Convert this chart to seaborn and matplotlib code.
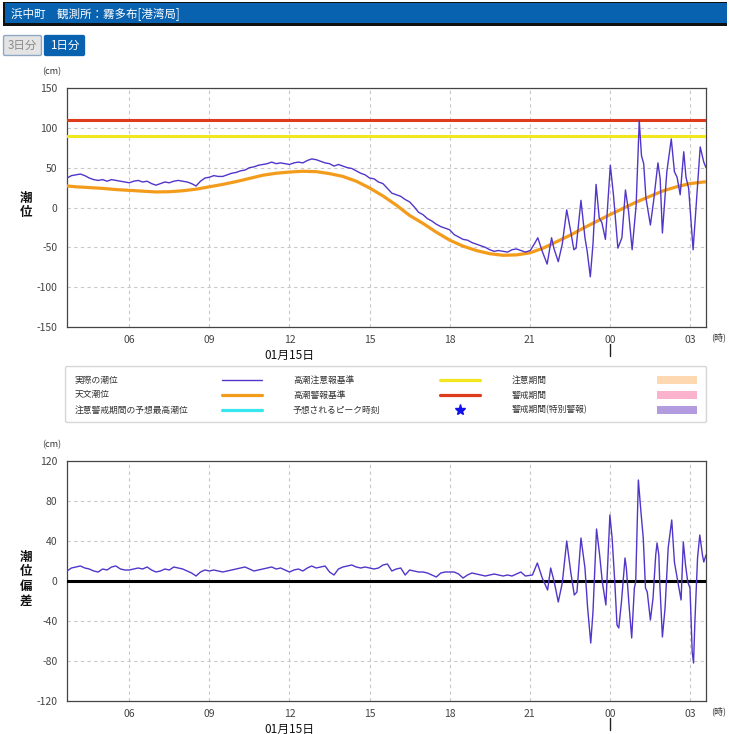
import numpy as np
import pandas as pd
import matplotlib
matplotlib.use("Agg")
import matplotlib.pyplot as plt
import matplotlib.dates as mdates
import matplotlib.transforms as mtrans
from matplotlib.patches import Rectangle, FancyBboxPatch
from matplotlib.lines import Line2D
import seaborn as sns

sns.set_theme(style="white")
plt.rcParams['font.family'] = ['Noto Sans CJK JP', 'DejaVu Sans']
plt.rcParams['axes.unicode_minus'] = False

# ---------------- DATA ----------------
title_text = "浜中町　観測所：霧多布[港湾局]"
date_label = "01月15日"
advisory_level_cm = 90     # 高潮注意報基準
warning_level_cm = 110     # 高潮警報基準

# 天文潮位, every 30 min from 01/15 03:00 to 01/16 04:00
astro_start = "2025-01-15 03:00"
astro_cm = [29, 27.5, 26, 25, 24, 22.5, 21.5, 20.5, 19.5, 19.8, 21, 23, 26, 29,
            32.5, 36.5, 40.5, 43, 44.5, 45.5, 45, 42.5, 39, 33, 24.5, 14.5, 3, -10,
            -20, -31, -41, -48.5, -54, -58, -60, -59.5, -57, -51, -43, -35, -26, -17.5,
            -9, -1, 7, 14, 21, 26, 30, 32, 33]

# calm period, every 10 min from 01/15 03:40
calm_start = "2025-01-15 03:40"
calm_obs_cm = [37, 40,
               41, 42, 40, 37, 35, 34,
               35, 33, 35, 34, 33, 32,
               31, 33, 34, 32, 33, 30,
               28, 30, 32, 31, 33, 34,
               33, 32, 30, 27, 33, 37,
               38, 40, 39, 39, 41, 43,
               44, 46, 47, 50, 51, 53,
               54, 55, 57, 55, 56, 55,
               54, 56, 57, 56, 59, 61,
               60, 58, 56, 55, 52, 54,
               52, 50, 49, 46, 43, 41,
               37, 36, 32, 30, 24, 18,
               16, 14, 10, 7, 1, -6,
               -9, -14, -17, -21, -24, -26,
               -28, -34, -37, -40, -41, -44,
               -46, -48, -50, -53, -55, -54,
               -55, -56, -53, -52, -54, -56]
calm_dev_cm = [10, 13,
               14, 15, 13, 12, 10, 9,
               12, 11, 14, 15, 12, 11,
               11, 12, 13, 12, 14, 11,
               9, 10, 12, 11, 14, 13,
               12, 10, 8, 5, 9, 11,
               10, 11, 10, 9, 10, 11,
               12, 13, 14, 12, 10, 11,
               12, 13, 14, 12, 13, 11,
               9, 11, 12, 10, 13, 15,
               13, 14, 15, 9, 6, 12,
               14, 15, 16, 14, 13, 14,
               13, 12, 13, 16, 17, 10,
               12, 13, 6, 11, 10, 9,
               9, 8, 6, 4, 8, 9,
               9, 9, 7, 3, 6, 8,
               7, 6, 5, 6, 7, 6,
               5, 6, 5, 7, 9, 5]

# tsunami period, observed tide level (top chart)
wave_obs_time = ["21:01", "21:10", "21:18", "21:28", "21:39", "21:49", "21:54", "22:04",
                 "22:13", "22:23", "22:32", "22:39", "22:44", "22:55", "23:04", "23:09",
                 "23:16", "23:22", "23:29", "23:36", "23:42", "23:50", "00:01", "00:08",
                 "00:18", "00:27", "00:35", "00:42", "00:50", "00:59", "01:06", "01:11",
                 "01:16", "01:21", "01:31", "01:38", "01:48", "01:53", "01:58", "02:08",
                 "02:18", "02:25", "02:31", "02:38", "02:46", "02:51", "02:57", "03:07",
                 "03:14", "03:23", "03:31", "03:36"]
wave_obs_cm = [-54, -46, -38, -55, -71, -38, -51, -68,
               -46, -3, -30, -53, -51, 9, -38, -55,
               -87, -46, 29, -13, -19, -40, 53, 16,
               -51, -38, 22, -5, -53, 3, 109, 65,
               55, 12, -22, 7, 56, 36, -32, 45,
               86, 45, 38, 16, 70, 38, 24, -53,
               3, 76, 57, 50]

# tsunami period, deviation (bottom chart)
wave_dev_time = ["21:06", "21:17", "21:28", "21:40", "21:47", "21:55", "22:04", "22:13",
                 "22:23", "22:32", "22:40", "22:46", "22:55", "23:04", "23:10", "23:17",
                 "23:22", "23:30", "23:37", "23:43", "23:51", "00:00", "00:05", "00:11",
                 "00:16", "00:20", "00:26", "00:34", "00:37", "00:43", "00:49", "00:55",
                 "00:58", "01:04", "01:10", "01:15", "01:20", "01:24", "01:31", "01:37",
                 "01:43", "01:46", "01:50", "01:52", "01:58", "02:04", "02:11", "02:19",
                 "02:25", "02:28", "02:32", "02:40", "02:45", "02:50", "02:55", "03:00",
                 "03:05", "03:08", "03:11", "03:17", "03:22", "03:28", "03:31", "03:36"]
wave_dev_cm = [6, 18, 3, -9, 13, -1, -21, -2,
               40, 9, -14, -11, 43, 13, -27, -62,
               -31, 52, 26, -1, -24, 66, 43, -1,
               -44, -47, -21, 23, 13, -24, -57, -7,
               -1, 101, 68, 43, -7, -11, -39, -17,
               26, 38, 26, -1, -56, -27, 33, 61,
               19, 11, 1, -19, 39, 16, -1, -7,
               -71, -82, -41, 23, 46, 26, 19, 26]

# ---------------- helpers ----------------
def to_times(labels):
    out, day, prev = [], 15, -1
    for s in labels:
        h, m = map(int, s.split(":"))
        t = h * 60 + m
        if t < prev:
            day = 16
        prev = t
        out.append(pd.Timestamp(2025, 1, day, h, m))
    return out

calm_times = list(pd.date_range(calm_start, periods=len(calm_obs_cm), freq="10min"))
obs_df = pd.DataFrame({"time": calm_times + to_times(wave_obs_time),
                       "cm": calm_obs_cm + wave_obs_cm})
dev_df = pd.DataFrame({"time": calm_times + to_times(wave_dev_time),
                       "cm": calm_dev_cm + wave_dev_cm})
astro_df = pd.DataFrame({"time": pd.date_range(astro_start, periods=len(astro_cm), freq="30min"),
                         "cm": astro_cm})

W, H = 729, 734
fig = plt.figure(figsize=(W / 100, H / 100), dpi=100)
fig.patch.set_facecolor("white")

def fx(px): return px / W
def fy(py): return 1 - py / H

PURPLE = "#5235c9"
ORANGE = "#f39c1c"
YELLOW = "#f2e61e"
RED = "#dd3b1c"
BLUE = "#0862b0"
GRID = "#c8c8c8"
AXC = "#444444"
TXT = "#444444"

# header
fig.patches.append(Rectangle((fx(3), fy(26)), fx(724), 24 / H, transform=fig.transFigure,
                             facecolor="#111111", edgecolor="none"))
fig.patches.append(Rectangle((fx(5), fy(23)), fx(722), 19.5 / H, transform=fig.transFigure,
                             facecolor=BLUE, edgecolor="none"))
fig.text(fx(11), fy(14), title_text, color="white", fontsize=8.3, va="center", ha="left")

# buttons
fig.patches.append(FancyBboxPatch((fx(5), fy(54)), 35 / W, 17 / H, boxstyle="round,pad=0.002",
                                  transform=fig.transFigure, facecolor="#e4e4e4",
                                  edgecolor="#8fa8c4", lw=1))
fig.text(fx(22.5), fy(45.5), "3日分", color="#8a8a8a", fontsize=8.3, ha="center", va="center")
fig.patches.append(FancyBboxPatch((fx(46), fy(54)), 37 / W, 17 / H, boxstyle="round,pad=0.002",
                                  transform=fig.transFigure, facecolor=BLUE,
                                  edgecolor=BLUE, lw=1))
fig.text(fx(64.5), fy(45.5), "1日分", color="white", fontsize=8.3, ha="center", va="center")

x0 = pd.Timestamp("2025-01-15 03:40")
x1 = pd.Timestamp("2025-01-16 03:36")
midnight = pd.Timestamp("2025-01-16 00:00")

def style_axis(ax, ylim, yticks, ylabel, top_px, bottom_px):
    ax.set_xlim(x0, x1)
    ax.set_ylim(*ylim)
    ax.set_yticks(yticks)
    ax.xaxis.set_major_locator(mdates.HourLocator(byhour=range(0, 24, 3)))
    ax.xaxis.set_minor_locator(mdates.HourLocator())
    ax.xaxis.set_major_formatter(mdates.DateFormatter("%H"))
    ax.tick_params(axis="both", which="both", direction="out", length=5, width=0.9,
                   color=AXC, labelsize=7.5, labelcolor=TXT, pad=2)
    ax.tick_params(axis="x", which="major", pad=0.5)
    ax.grid(True, which="major", axis="both", color=GRID, ls=(0, (3, 3)), lw=0.8)
    for s in ax.spines.values():
        s.set_color(AXC)
        s.set_linewidth(0.9)
    ax.set_xlabel("")
    ax.set_ylabel("")
    ax.set_axisbelow(True)
    fig.text(fx(52), fy(top_px - 16), "(cm)", fontsize=6.5, color="#333333", ha="center", va="center")
    fig.text(fx(719), fy(bottom_px + 10), "(時)", fontsize=6.5, color="#333333", ha="center", va="center")
    fig.text(fx(26), fy((top_px + bottom_px) / 2 - 2), ylabel, fontsize=9, fontweight="bold",
             color="#111111", ha="center", va="center", linespacing=1.15)
    fig.text(fx(289), fy(bottom_px + 28), date_label, fontsize=8.5, color="#111111",
             ha="center", va="center")
    trans = mtrans.blended_transform_factory(ax.transData, fig.transFigure)
    ax.add_line(Line2D([midnight, midnight], [fy(bottom_px + 17), fy(bottom_px + 29)],
                       transform=trans, color="#222222", lw=1, clip_on=False))

# ---------------- top chart ----------------
top_px, bot_px = 88, 327
ax1 = fig.add_axes([fx(67), fy(bot_px), (706 - 67) / W, (bot_px - top_px) / H])
ax1.axhline(warning_level_cm, color=RED, lw=2.2, zorder=3)
ax1.axhline(advisory_level_cm, color=YELLOW, lw=2.2, zorder=3)
sns.lineplot(data=astro_df, x="time", y="cm", ax=ax1, color=ORANGE, lw=2.3, zorder=4)
sns.lineplot(data=obs_df, x="time", y="cm", ax=ax1, color=PURPLE, lw=1.0, zorder=5)
style_axis(ax1, (-150, 150), range(-150, 151, 50), "潮\n位", top_px, bot_px)

# ---------------- legend ----------------
fig.patches.append(FancyBboxPatch((fx(67), fy(421)), 638 / W, 53 / H, boxstyle="round,pad=0.002",
                                  transform=fig.transFigure, facecolor="white",
                                  edgecolor="#d6d6d6", lw=1))
rows = [380, 395, 410]
leg_fs = 6.3
col1 = [("実際の潮位", PURPLE, 1.0), ("天文潮位", ORANGE, 2.3), ("注意警戒期間の予想最高潮位", "#38e6f0", 2.3)]
col2 = [("高潮注意報基準", YELLOW, 2.3), ("高潮警報基準", RED, 2.3)]
col3 = [("注意期間", "#fdd8b0"), ("警戒期間", "#fbb2cc"), ("警戒期間(特別警報)", "#b39be0")]
for (lab, c, lw), r in zip(col1, rows):
    fig.text(fx(75), fy(r), lab, fontsize=leg_fs, color="#333333", va="center")
    fig.lines.append(Line2D([fx(222), fx(262)], [fy(r), fy(r)], transform=fig.transFigure, color=c, lw=lw))
for (lab, c, lw), r in zip(col2, rows):
    fig.text(fx(293), fy(r), lab, fontsize=leg_fs, color="#333333", va="center")
    fig.lines.append(Line2D([fx(440), fx(480)], [fy(r), fy(r)], transform=fig.transFigure, color=c, lw=lw))
fig.text(fx(293), fy(rows[2]), "予想されるピーク時刻", fontsize=leg_fs, color="#333333", va="center")
fig.lines.append(Line2D([fx(460)], [fy(rows[2])], transform=fig.transFigure, marker="*",
                        markersize=8, color="#1010ee", lw=0))
for (lab, c), r in zip(col3, rows):
    fig.text(fx(512), fy(r), lab, fontsize=leg_fs, color="#333333", va="center")
    fig.patches.append(Rectangle((fx(657), fy(r + 4)), 40 / W, 8 / H, transform=fig.transFigure,
                                 facecolor=c, edgecolor="none"))

# ---------------- bottom chart ----------------
top2, bot2 = 461, 701
ax2 = fig.add_axes([fx(67), fy(bot2), (706 - 67) / W, (bot2 - top2) / H])
ax2.axhline(0, color="black", lw=2.2, zorder=3)
sns.lineplot(data=dev_df, x="time", y="cm", ax=ax2, color=PURPLE, lw=1.0, zorder=5)
style_axis(ax2, (-120, 120), range(-120, 121, 40), "潮\n位\n偏\n差", top2, bot2)

fig.savefig("out.png", dpi=100, facecolor="white")
